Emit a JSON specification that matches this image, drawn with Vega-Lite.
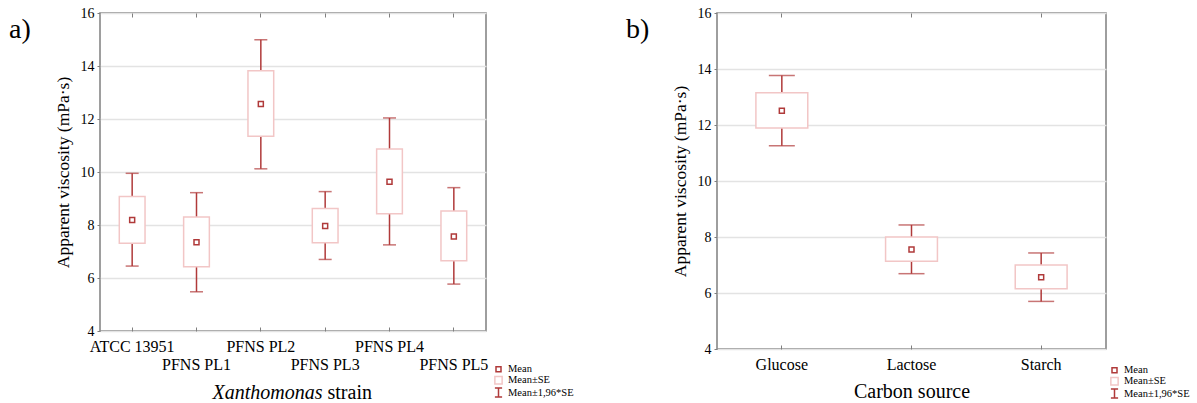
{
  "$schema": "https://vega.github.io/schema/vega-lite/v6.json",
  "padding": {"left": 8, "top": 5, "right": 0, "bottom": 0},
  "datasets": {
    "a": [
      {"strain": "ATCC 13951", "lo95": 6.45, "lo": 7.31, "mean": 8.19, "hi": 9.08, "hi95": 9.95},
      {"strain": "PFNS PL1", "lo95": 5.48, "lo": 6.42, "mean": 7.35, "hi": 8.30, "hi95": 9.22},
      {"strain": "PFNS PL2", "lo95": 10.12, "lo": 11.35, "mean": 12.57, "hi": 13.82, "hi95": 14.99},
      {"strain": "PFNS PL3", "lo95": 6.70, "lo": 7.33, "mean": 7.96, "hi": 8.62, "hi95": 9.26},
      {"strain": "PFNS PL4", "lo95": 7.25, "lo": 8.42, "mean": 9.63, "hi": 10.87, "hi95": 12.04},
      {"strain": "PFNS PL5", "lo95": 5.77, "lo": 6.65, "mean": 7.57, "hi": 8.53, "hi95": 9.41}
    ],
    "b": [
      {"source": "Glucose", "lo95": 11.26, "lo": 11.89, "mean": 12.51, "hi": 13.15, "hi95": 13.77},
      {"source": "Lactose", "lo95": 6.69, "lo": 7.13, "mean": 7.55, "hi": 8.00, "hi95": 8.43},
      {"source": "Starch", "lo95": 5.70, "lo": 6.15, "mean": 6.56, "hi": 7.00, "hi95": 7.43}
    ]
  },
  "spacing": 50,
  "hconcat": [
    {
      "width": 386,
      "height": 318,
      "data": {"name": "a"},
      "title": {"text": "a)", "anchor": "start", "frame": "bounds", "fontSize": 28, "font": "Liberation Serif", "fontWeight": "normal", "dx": -45, "dy": 38, "offset": 0},
      "layer": [
        {
          "mark": {"type": "rule", "color": "#b03a3a", "strokeWidth": 1.5},
          "encoding": {
            "x": {"field": "strain", "type": "nominal", "sort": null, "scale": {"paddingInner": 0, "paddingOuter": 0},
              "axis": {"orient": "bottom", "title": "Xanthomonas", "titleFont": "Liberation Serif", "titleFontSize": 20, "titleFontStyle": "italic", "titleAlign": "right", "titleX": 222, "titleY": 67, "titleBaseline": "alphabetic",
                "labelExpr": "indexof(['PFNS PL1','PFNS PL3','PFNS PL5'], datum.label) >= 0 ? ['', datum.label] : datum.label",
                "labelFont": "Liberation Serif", "labelFontSize": 16, "labelBaseline": "top", "labelLineHeight": 18, "labelPadding": 11}},
            "y": {"field": "lo95", "type": "quantitative", "scale": {"domain": [4, 16]},
              "axis": {"values": [4, 6, 8, 10, 12, 14, 16], "labelFont": "Liberation Serif", "labelFontSize": 14, "titleFont": "Liberation Serif", "titleFontSize": 17.5}, "title": "Apparent viscosity (mPa·s)"},
            "y2": {"field": "hi95"}
          }
        },
        {
          "mark": {"type": "tick", "color": "#b03a3a", "size": 13, "thickness": 1.5},
          "encoding": {
            "x": {"field": "strain", "type": "nominal", "sort": null,
              "axis": {"orient": "bottom", "title": "strain", "titleFont": "Liberation Serif", "titleFontSize": 20, "labels": false, "ticks": false, "titleAlign": "left", "titleX": 227, "titleY": 67, "titleBaseline": "alphabetic"}},
            "y": {"field": "lo95", "type": "quantitative", "scale": {"domain": [4, 16]}, "axis": {"values": [4, 6, 8, 10, 12, 14, 16], "labelFont": "Liberation Serif", "labelFontSize": 14, "titleFont": "Liberation Serif", "titleFontSize": 17.5}, "title": "Apparent viscosity (mPa·s)"}
          }
        },
        {
          "mark": {"type": "tick", "color": "#b03a3a", "size": 13, "thickness": 1.5},
          "encoding": {
            "x": {"field": "strain", "type": "nominal", "sort": null,
              "axis": {"orient": "top", "labels": false, "title": null, "tickSize": -4}},
            "y": {"field": "hi95", "type": "quantitative", "scale": {"domain": [4, 16]}, "axis": {"values": [4, 6, 8, 10, 12, 14, 16], "labelFont": "Liberation Serif", "labelFontSize": 14, "titleFont": "Liberation Serif", "titleFontSize": 17.5}, "title": "Apparent viscosity (mPa·s)"}
          }
        },
        {
          "mark": {"type": "bar", "fill": "white", "stroke": "#f2c6c6", "strokeWidth": 1.5, "width": {"band": 0.4}},
          "encoding": {
            "x": {"field": "strain", "type": "nominal", "sort": null, "axis": null},
            "y": {"field": "lo", "type": "quantitative", "scale": {"domain": [4, 16]}, "axis": {"values": [4, 6, 8, 10, 12, 14, 16], "labelFont": "Liberation Serif", "labelFontSize": 14, "titleFont": "Liberation Serif", "titleFontSize": 17.5}, "title": "Apparent viscosity (mPa·s)"},
            "y2": {"field": "hi"}
          }
        },
        {
          "mark": {"type": "point", "filled": false, "strokeWidth": 1.5, "opacity": 1},
          "encoding": {
            "x": {"field": "strain", "type": "nominal", "sort": null, "axis": null},
            "y": {"field": "mean", "type": "quantitative", "scale": {"domain": [4, 16]}, "axis": {"values": [4, 6, 8, 10, 12, 14, 16], "labelFont": "Liberation Serif", "labelFontSize": 14, "titleFont": "Liberation Serif", "titleFontSize": 17.5}, "title": "Apparent viscosity (mPa·s)"},
            "shape": {"datum": "Mean", "type": "nominal", "scale": {"domain": ["Mean", "Mean±SE", "Mean±1,96*SE"], "range": ["square", "square", "M-0.8,-1H0.8M0,-1V1M-0.8,1H0.8"]},
              "legend": {"title": null, "orient": "none", "legendX": 393, "legendY": 351, "padding": 0, "rowPadding": -2, "labelFont": "Liberation Serif", "labelFontSize": 10.5, "labelOffset": 4, "symbolStrokeWidth": 1.5}},
            "stroke": {"datum": "Mean", "type": "nominal", "scale": {"domain": ["Mean", "Mean±SE", "Mean±1,96*SE"], "range": ["#b03a3a", "#f2c6c6", "#b03a3a"]},
              "legend": {"title": null, "orient": "none", "legendX": 393, "legendY": 351, "padding": 0, "rowPadding": -2, "labelFont": "Liberation Serif", "labelFontSize": 10.5, "labelOffset": 4, "symbolStrokeWidth": 1.5}},
            "size": {"datum": "Mean", "type": "nominal", "scale": {"domain": ["Mean", "Mean±SE", "Mean±1,96*SE"], "range": [25, 81, 100]},
              "legend": {"title": null, "orient": "none", "legendX": 393, "legendY": 351, "padding": 0, "rowPadding": -2, "labelFont": "Liberation Serif", "labelFontSize": 10.5, "labelOffset": 4, "symbolStrokeWidth": 1.5}}
          }
        }
      ],
      "resolve": {"axis": {"x": "independent"}}
    },
    {
      "width": 389,
      "height": 336,
      "data": {"name": "b"},
      "title": {"text": "b)", "anchor": "start", "frame": "bounds", "fontSize": 28, "font": "Liberation Serif", "fontWeight": "normal", "dx": -45, "dy": 38, "offset": 0},
      "layer": [
        {
          "mark": {"type": "rule", "color": "#b03a3a", "strokeWidth": 1.5},
          "encoding": {
            "x": {"field": "source", "type": "nominal", "sort": null, "scale": {"paddingInner": 0, "paddingOuter": 0},
              "axis": {"orient": "bottom", "title": "Carbon source", "titleFont": "Liberation Serif", "titleFontSize": 20, "titleY": 48, "titleBaseline": "alphabetic", "labelFont": "Liberation Serif", "labelFontSize": 16, "labelBaseline": "top", "labelPadding": 11}},
            "y": {"field": "lo95", "type": "quantitative", "scale": {"domain": [4, 16]}, "axis": {"values": [4, 6, 8, 10, 12, 14, 16], "labelFont": "Liberation Serif", "labelFontSize": 14, "titleFont": "Liberation Serif", "titleFontSize": 17.5}, "title": "Apparent viscosity (mPa·s)"},
            "y2": {"field": "hi95"}
          }
        },
        {
          "mark": {"type": "tick", "color": "#b03a3a", "size": 26, "thickness": 1.5},
          "encoding": {
            "x": {"field": "source", "type": "nominal", "sort": null, "axis": null},
            "y": {"field": "lo95", "type": "quantitative", "scale": {"domain": [4, 16]}, "axis": {"values": [4, 6, 8, 10, 12, 14, 16], "labelFont": "Liberation Serif", "labelFontSize": 14, "titleFont": "Liberation Serif", "titleFontSize": 17.5}, "title": "Apparent viscosity (mPa·s)"}
          }
        },
        {
          "mark": {"type": "tick", "color": "#b03a3a", "size": 26, "thickness": 1.5},
          "encoding": {
            "x": {"field": "source", "type": "nominal", "sort": null,
              "axis": {"orient": "top", "labels": false, "title": null, "tickSize": -4}},
            "y": {"field": "hi95", "type": "quantitative", "scale": {"domain": [4, 16]}, "axis": {"values": [4, 6, 8, 10, 12, 14, 16], "labelFont": "Liberation Serif", "labelFontSize": 14, "titleFont": "Liberation Serif", "titleFontSize": 17.5}, "title": "Apparent viscosity (mPa·s)"}
          }
        },
        {
          "mark": {"type": "bar", "fill": "white", "stroke": "#f2c6c6", "strokeWidth": 1.5, "width": {"band": 0.4}},
          "encoding": {
            "x": {"field": "source", "type": "nominal", "sort": null, "axis": null},
            "y": {"field": "lo", "type": "quantitative", "scale": {"domain": [4, 16]}, "axis": {"values": [4, 6, 8, 10, 12, 14, 16], "labelFont": "Liberation Serif", "labelFontSize": 14, "titleFont": "Liberation Serif", "titleFontSize": 17.5}, "title": "Apparent viscosity (mPa·s)"},
            "y2": {"field": "hi"}
          }
        },
        {
          "mark": {"type": "point", "filled": false, "strokeWidth": 1.5, "opacity": 1},
          "encoding": {
            "x": {"field": "source", "type": "nominal", "sort": null, "axis": null},
            "y": {"field": "mean", "type": "quantitative", "scale": {"domain": [4, 16]}, "axis": {"values": [4, 6, 8, 10, 12, 14, 16], "labelFont": "Liberation Serif", "labelFontSize": 14, "titleFont": "Liberation Serif", "titleFontSize": 17.5}, "title": "Apparent viscosity (mPa·s)"},
            "shape": {"datum": "Mean", "type": "nominal", "scale": {"domain": ["Mean", "Mean±SE", "Mean±1,96*SE"], "range": ["square", "square", "M-0.8,-1H0.8M0,-1V1M-0.8,1H0.8"]},
              "legend": {"title": null, "orient": "none", "legendX": 392, "legendY": 352, "padding": 0, "rowPadding": -2, "labelFont": "Liberation Serif", "labelFontSize": 10.5, "labelOffset": 4, "symbolStrokeWidth": 1.5}},
            "stroke": {"datum": "Mean", "type": "nominal", "scale": {"domain": ["Mean", "Mean±SE", "Mean±1,96*SE"], "range": ["#b03a3a", "#f2c6c6", "#b03a3a"]},
              "legend": {"title": null, "orient": "none", "legendX": 392, "legendY": 352, "padding": 0, "rowPadding": -2, "labelFont": "Liberation Serif", "labelFontSize": 10.5, "labelOffset": 4, "symbolStrokeWidth": 1.5}},
            "size": {"datum": "Mean", "type": "nominal", "scale": {"domain": ["Mean", "Mean±SE", "Mean±1,96*SE"], "range": [25, 81, 100]},
              "legend": {"title": null, "orient": "none", "legendX": 392, "legendY": 352, "padding": 0, "rowPadding": -2, "labelFont": "Liberation Serif", "labelFontSize": 10.5, "labelOffset": 4, "symbolStrokeWidth": 1.5}}
          }
        }
      ],
      "resolve": {"axis": {"x": "independent"}}
    }
  ],
  "resolve": {
    "scale": {"shape": "independent", "stroke": "independent", "size": "independent"},
    "legend": {"shape": "independent", "stroke": "independent", "size": "independent"}
  },
  "config": {
    "font": "Liberation Serif",
    "view": {"stroke": "#7f7f7f", "strokeWidth": 1.5},
    "axis": {"labelColor": "#000", "titleColor": "#000", "titleFontWeight": "normal", "domain": false, "tickColor": "#7f7f7f"},
    "axisY": {"tickSize": 3, "labelPadding": 3, "titlePadding": 8, "gridColor": "#e3e3e3", "gridWidth": 1.5},
    "axisX": {"grid": false, "labelAngle": 0, "tickSize": -4}
  }
}
